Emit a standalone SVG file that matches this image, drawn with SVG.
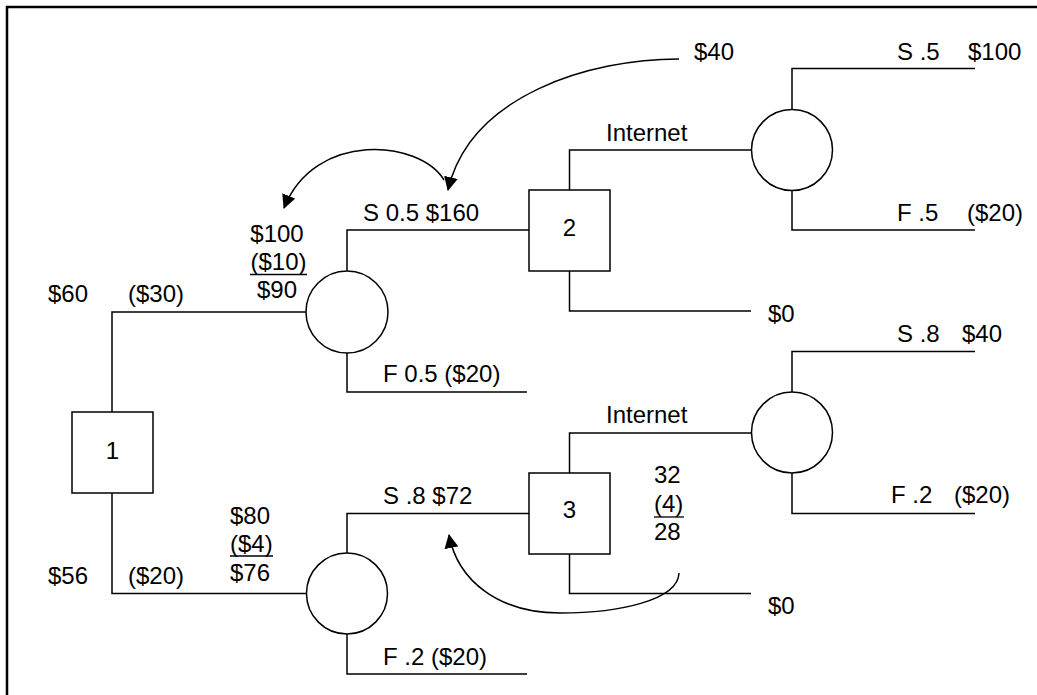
<svg xmlns="http://www.w3.org/2000/svg" width="1037" height="695" viewBox="0 0 1037 695">
<style>
.ln{fill:none;stroke:#000;stroke-width:1.5}
.nd{fill:#fff;stroke:#000;stroke-width:1.5}
.t{font-family:"Liberation Sans",Arial,sans-serif;font-size:24px;fill:#000}
.m{text-anchor:middle}
.u{stroke:#000;stroke-width:1.3}
.arc{fill:none;stroke:#000;stroke-width:1.5}
</style>
<defs>
<marker id="ah" markerUnits="userSpaceOnUse" markerWidth="14" markerHeight="14" viewBox="0 0 14 14" refX="13" refY="7" orient="auto">
<path d="M0,0 L14,7 L0,14 Z" fill="#000"/>
</marker>
</defs>
<rect width="1037" height="695" fill="#fff"/>
<g id="frame">
<path d="M7,696 L7,7 L1038,7" fill="none" stroke="#000" stroke-width="2.5"/>
</g>
<g id="connectors">
<path class="ln" d="M112,412 V312 H306"/>
<path class="ln" d="M112,493 V593.5 H306"/>
<path class="ln" d="M347,271 V230 H529"/>
<path class="ln" d="M347,353 V392 H527"/>
<path class="ln" d="M347,553 V513.5 H529"/>
<path class="ln" d="M347,634 V674 H527"/>
<path class="ln" d="M569.5,190 V150 H751.5"/>
<path class="ln" d="M569.5,271 V311 H751"/>
<path class="ln" d="M792,109.5 V68.5 H975"/>
<path class="ln" d="M792,190.5 V230 H975"/>
<path class="ln" d="M569.5,473 V433 H751.5"/>
<path class="ln" d="M569.5,554 V593.5 H751"/>
<path class="ln" d="M792,392 V351.5 H975"/>
<path class="ln" d="M792,473 V513.5 H975"/>
<path class="arc" d="M679,59 C 590,59 470,95 448,190" marker-end="url(#ah)"/>
<path class="arc" d="M444,180 C 420,140 315,130 284,208" marker-end="url(#ah)"/>
<path class="arc" d="M679,573 C 678,600 620,613 560,613 C 500,613 458,582 449,535" marker-end="url(#ah)"/>
</g>
<g id="node1">
<rect class="nd" x="72" y="412" width="81" height="81"/>
<text class="t m" x="112.5" y="459">1</text>
</g>
<g id="node2">
<rect class="nd" x="529" y="190" width="81" height="81"/>
<text class="t m" x="569.5" y="236">2</text>
</g>
<g id="node3">
<rect class="nd" x="529" y="473" width="81" height="81"/>
<text class="t m" x="569.5" y="518">3</text>
</g>
<g id="chance1">
<circle class="nd" cx="347" cy="312" r="41"/>
</g>
<g id="chance2">
<circle class="nd" cx="347" cy="593.5" r="40.5"/>
</g>
<g id="chance3">
<circle class="nd" cx="792" cy="150" r="40.5"/>
</g>
<g id="chance4">
<circle class="nd" cx="792" cy="432.5" r="40.5"/>
</g>
<g id="labels">
<text class="t" x="694" y="60">$40</text>
<text class="t" x="897" y="60">S .5</text>
<text class="t" x="968" y="60">$100</text>
<text class="t" x="606" y="141">Internet</text>
<text class="t" x="897" y="221">F .5</text>
<text class="t" x="967" y="221">($20)</text>
<text class="t" x="768" y="322">$0</text>
<text class="t" x="897" y="342">S .8</text>
<text class="t" x="962" y="342">$40</text>
<text class="t" x="363" y="221">S 0.5 $160</text>
<text class="t m" x="277" y="242">$100</text>
<text class="t m" x="278.5" y="270">($10)</text>
<line class="u" x1="250" y1="274.5" x2="307" y2="274.5"/>
<text class="t m" x="277" y="298">$90</text>
<text class="t" x="48" y="302">$60</text>
<text class="t" x="128" y="302">($30)</text>
<text class="t" x="383" y="382">F 0.5 ($20)</text>
<text class="t" x="606" y="423">Internet</text>
<text class="t" x="891" y="503">F .2</text>
<text class="t" x="954" y="503">($20)</text>
<text class="t" x="654" y="483">32</text>
<text class="t" x="654" y="512">(4)</text>
<line class="u" x1="654" y1="517" x2="684" y2="517"/>
<text class="t" x="654" y="540">28</text>
<text class="t" x="383" y="504">S .8 $72</text>
<text class="t" x="230" y="524">$80</text>
<text class="t" x="230" y="552">($4)</text>
<line class="u" x1="230" y1="556" x2="273" y2="556"/>
<text class="t" x="230" y="581">$76</text>
<text class="t" x="48" y="584">$56</text>
<text class="t" x="128" y="584">($20)</text>
<text class="t" x="768" y="614">$0</text>
<text class="t" x="383" y="665">F .2 ($20)</text>
</g>
</svg>
